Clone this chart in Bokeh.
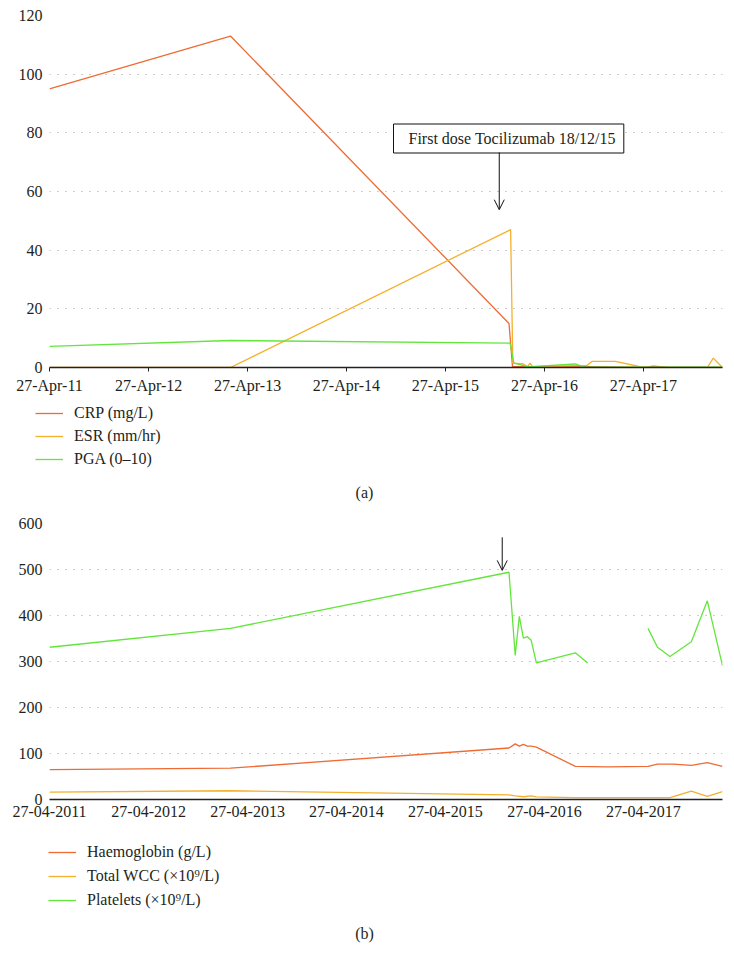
import numpy as np
import pandas as pd
from bokeh.plotting import figure
from bokeh.models import (Range1d, FixedTicker, DatetimeTickFormatter, Legend,
                          LegendItem, Label, Arrow, OpenHead)
from bokeh.layouts import column
from bokeh.embed import file_html
from bokeh.resources import INLINE

FONT = "Liberation Serif"
TXT = "#231f20"

# ---------------- data (a) ----------------
crp_dates = ["2011-04-27", "2013-02-23", "2015-12-18", "2015-12-31", "2016-03-24",
             "2016-10-03", "2017-04-27", "2017-06-03", "2017-08-01", "2018-02-13"]
crp_vals = [95, 113, 15, 0.3, 0.3, 0.3, 0, 0.5, 0, 0]

esr_dates = ["2011-04-27", "2013-02-23", "2015-12-24", "2016-01-01", "2016-02-09",
             "2016-02-24", "2016-03-05", "2016-03-13", "2016-10-01", "2016-10-20",
             "2017-01-14", "2017-04-27", "2017-12-19", "2018-01-10", "2018-02-13"]
esr_vals = [0, 0, 47, 1.5, 1.2, 0.3, 1.5, 0.3, 0.7, 2.1, 2.1, 0, 0, 3.2, 0]

pga_dates = ["2011-04-27", "2013-02-23", "2015-12-22", "2016-01-05", "2016-01-28",
             "2016-02-24", "2016-08-19", "2016-09-20", "2018-02-13"]
pga_vals = [7.2, 9.2, 8.3, 1.5, 1.0, 0.2, 1.2, 0.1, 0.1]

labels_a = ["CRP (mg/L)", "ESR (mm/hr)", "PGA (0–10)"]
ticks_a = ["2011-04-27", "2012-04-27", "2013-04-27", "2014-04-27",
           "2015-04-27", "2016-04-27", "2017-04-27"]
yticks_a = [0, 20, 40, 60, 80, 100, 120]

# ---------------- data (b) ----------------
hb_dates = ["2011-04-27", "2013-02-23", "2015-12-18", "2016-01-10", "2016-01-25",
            "2016-02-09", "2016-02-24", "2016-03-09", "2016-03-28", "2016-08-19",
            "2016-12-15", "2017-05-14", "2017-06-18", "2017-08-16", "2017-10-21",
            "2017-12-19", "2018-02-13"]
hb_vals = [65, 68, 112, 121, 116, 120, 116, 116, 114, 72, 71, 72, 77, 77, 74, 80, 72]

wcc_dates = ["2011-04-27", "2013-02-23", "2015-12-18", "2016-01-10", "2016-02-09",
             "2016-03-09", "2016-03-28", "2016-08-19", "2017-08-03", "2017-10-21",
             "2017-12-19", "2018-02-13"]
wcc_vals = [16, 19, 10, 8, 6, 8, 5.5, 4, 4, 18, 7, 17]

plt_dates = ["2011-04-27", "2013-02-23", "2015-12-18", "2016-01-10", "2016-01-25",
             "2016-02-09", "2016-02-24", "2016-03-09", "2016-03-28", "2016-08-19",
             "2016-10-03", "2017-01-01", "2017-05-14", "2017-06-18", "2017-08-03",
             "2017-10-21", "2017-12-19", "2018-02-13"]
plt_vals = [331, 372, 494, 313, 398, 351, 354, 346, 297, 319,
            297, np.nan, 372, 331, 311, 343, 432, 291]

labels_b = ["Haemoglobin (g/L)", "Total WCC (×10⁹/L)", "Platelets (×10⁹/L)"]
ticks_b = ticks_a
yticks_b = [0, 100, 200, 300, 400, 500, 600]

X_START = "2011-04-27"
X_END = "2018-02-13"

C_RED = "#ef6b33"
C_ORA = "#f4b02c"
C_GRN = "#62e63c"
COLORS = [C_RED, C_ORA, C_GRN]
W = 726


def ms(s):
    return pd.Timestamp(s).value / 1e6


def base_fig(height, top, bottom, ymax, yticks, ticks, fmt, tick_out, standoff):
    p = figure(width=W, height=height, x_axis_type="datetime",
               output_backend="svg", toolbar_location=None,
               x_range=Range1d(ms(X_START), ms(X_END)), y_range=Range1d(0, ymax),
               min_border_left=49, min_border_right=4,
               min_border_top=top, min_border_bottom=bottom)
    p.outline_line_color = None
    p.background_fill_color = "white"
    p.xgrid.visible = False
    p.ygrid.grid_line_color = "#9a9a9a"
    p.ygrid.grid_line_dash = "1 7"
    p.ygrid.grid_line_width = 1
    p.yaxis.ticker = FixedTicker(ticks=yticks)
    p.yaxis.axis_line_color = None
    p.yaxis.major_tick_line_color = None
    p.yaxis.minor_tick_line_color = None
    p.yaxis.major_tick_out = 0
    p.yaxis.major_label_standoff = 7
    p.xaxis.ticker = FixedTicker(ticks=[ms(t) for t in ticks])
    p.xaxis.formatter = DatetimeTickFormatter(days=fmt, months=fmt, years=fmt,
                                              hours=fmt, hourmin=fmt)
    p.xaxis.axis_line_color = "#222222"
    p.xaxis.axis_line_width = 1.3
    p.xaxis.minor_tick_line_color = None
    p.xaxis.major_tick_in = 0
    p.xaxis.major_tick_out = tick_out
    if tick_out == 0:
        p.xaxis.major_tick_line_color = None
    else:
        p.xaxis.major_tick_line_color = "#222222"
    p.xaxis.major_label_standoff = standoff
    for ax in (p.xaxis, p.yaxis):
        ax.major_label_text_font = FONT
        ax.major_label_text_font_size = "16px"
        ax.major_label_text_color = TXT
    return p


def legend_fig(height, labels, lx, ly, spacing, caption, cx, cy):
    q = figure(width=W, height=height, output_backend="svg", toolbar_location=None,
               x_range=Range1d(0, 1), y_range=Range1d(0, 1),
               min_border=0, min_border_left=0, min_border_right=0,
               min_border_top=0, min_border_bottom=0)
    q.frame_align = False
    q.axis.visible = False
    q.grid.visible = False
    q.outline_line_color = None
    items = []
    for lab, col in zip(labels, COLORS):
        # legend-key renderer only: its single point lies outside the visible range
        r = q.line(x=[-5, -4], y=[-5, -4], line_color=col, line_width=1.3)
        items.append(LegendItem(label=lab, renderers=[r]))
    leg = Legend(items=items, location=(lx, ly), border_line_color=None,
                 background_fill_alpha=0, glyph_width=28, glyph_height=20,
                 label_height=20, spacing=spacing, label_standoff=11, padding=0,
                 margin=0, label_text_font=FONT, label_text_font_size="16px",
                 label_text_color=TXT)
    q.add_layout(leg)
    q.add_layout(Label(x=cx, y=cy, x_units="screen", y_units="screen", text=caption,
                       text_align="center", text_baseline="middle",
                       text_font=FONT, text_font_size="16px", text_color=TXT))
    return q


# ---------------- figure (a) ----------------
pa = base_fig(397, 15, 30, 120, yticks_a, ticks_a, "%d-%b-%y", 4, 5)
pa.line(pd.to_datetime(crp_dates), crp_vals, line_color=C_RED, line_width=1.3)
pa.line(pd.to_datetime(esr_dates), esr_vals, line_color=C_ORA, line_width=1.3)
pa.line(pd.to_datetime(pga_dates), pga_vals, line_color=C_GRN, line_width=1.3)

pa.add_layout(Label(x=344, y=229, x_units="screen", y_units="screen",
                    text="First dose Tocilizumab 18/12/15",
                    text_align="left", text_baseline="middle",
                    text_font=FONT, text_font_size="16px", text_color=TXT,
                    background_fill_color="white", border_line_color="#111111",
                    border_line_width=1,
                    padding=dict(left=15, right=8, top=6, bottom=6)))

pa.add_layout(Arrow(end=OpenHead(size=10, line_width=1, line_color="#111111"),
                    x_start=ms("2015-11-12"), y_start=73.3,
                    x_end=ms("2015-11-12"), y_end=53.8,
                    line_width=1, line_color="#111111"))

la = legend_fig(108, labels_a, 35, 36, 3, "(a)", 364, 13)

# ---------------- figure (b) ----------------
pb = base_fig(324, 18, 30, 600, yticks_b, ticks_b, "%d-%m-%Y", 0, 6)
pb.line(pd.to_datetime(hb_dates), hb_vals, line_color=C_RED, line_width=1.3)
pb.line(pd.to_datetime(wcc_dates), wcc_vals, line_color=C_ORA, line_width=1.3)
pb.line(pd.to_datetime(plt_dates), plt_vals, line_color=C_GRN, line_width=1.3)

pb.add_layout(Arrow(end=OpenHead(size=10, line_width=1, line_color="#111111"),
                    x_start=ms("2015-11-23"), y_start=570,
                    x_end=ms("2015-11-23"), y_end=498,
                    line_width=1, line_color="#111111"))

lb = legend_fig(129, labels_b, 48, 48, 4, "(b)", 364, 25)

layout = column(pa, la, pb, lb, spacing=0)

with open("out.html", "w") as f:
    f.write(file_html(layout, INLINE))
